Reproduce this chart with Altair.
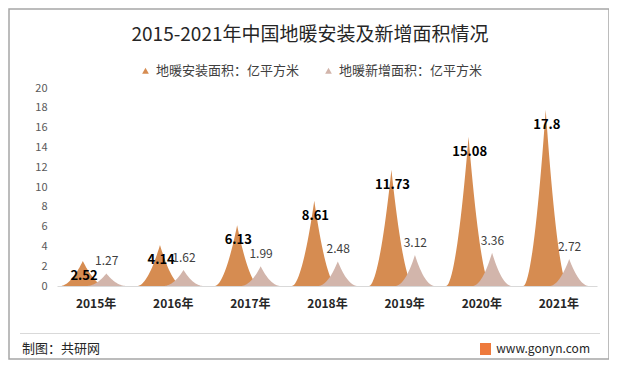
import altair as alt
import pandas as pd

years = ["2015年", "2016年", "2017年", "2018年", "2019年", "2020年", "2021年"]
install = [2.52, 4.14, 6.13, 8.61, 11.73, 15.08, 17.8]
added = [1.27, 1.62, 1.99, 2.48, 3.12, 3.36, 2.72]
series_names = ["地暖安装面积：亿平方米", "地暖新增面积：亿平方米"]
colors = ["#D68C51", "#D2B5AB"]
title_text = "2015-2021年中国地暖安装及新增面积情况"
source_text = "制图：共研网"
site_text = "www.gonyn.com"

FONT = "Noto Sans CJK SC"
W, H = 540, 198

df = pd.DataFrame({"year": years, "idx": list(range(len(years))),
                   "install": install, "added": added})
# profile steps of the spike outline (shape geometry, not data)
steps = pd.DataFrame({"k": list(range(41))})
shape_df = df.merge(steps, how="cross")

label_expr = "[" + ",".join("'%s'" % y for y in years) + "][floor(datum.value)]"
xscale = alt.Scale(domain=[0, len(years)], nice=False, zero=False)
yscale = alt.Scale(domain=[0, 20], nice=False)
x_axis = alt.Axis(values=[i + 0.5 for i in range(len(years))], labelExpr=label_expr,
                  title=None, grid=False, ticks=False, domainColor="#D9D9D9",
                  domainWidth=1, labelFont=FONT, labelFontSize=12, labelFontWeight="bold",
                  labelColor="#262626", labelPadding=12)
y_axis = alt.Axis(values=list(range(0, 21, 2)), title=None, grid=False, ticks=False,
                  domain=False, labelFont=FONT, labelFontSize=11, labelColor="#595959",
                  labelPadding=10)
color_scale = alt.Scale(domain=series_names, range=colors)


def spikes(field, offset, half, power, name):
    return (
        alt.Chart(shape_df)
        .transform_calculate(t="datum.k / 20 - 1")
        .transform_calculate(
            px="datum.idx + 0.5 + (%f) + (%f) * datum.t" % (offset, half),
            py="datum.%s * pow(1 - abs(datum.t), %f)" % (field, power),
            series="'%s'" % name,
        )
        .mark_area(opacity=1, interpolate="linear")
        .encode(
            x=alt.X("px:Q", scale=xscale, axis=x_axis),
            y=alt.Y("py:Q", scale=yscale, axis=y_axis, stack=None),
            color=alt.Color("series:N", scale=color_scale,
                            legend=alt.Legend(title=None, orient="none", legendX=82,
                                              legendY=-24, direction="horizontal",
                                              symbolType="triangle-up", symbolSize=45,
                                              symbolStrokeWidth=0, labelFont=FONT,
                                              labelFontSize=13, labelColor="#404040",
                                              columnPadding=22)),
            detail="year:N",
        )
    )


orange = spikes("install", -0.165, 0.29, 1.8, series_names[0])
gray = spikes("added", 0.14, 0.26, 2.0, series_names[1])

orange_lbl = (
    alt.Chart(df)
    .transform_calculate(px="datum.idx + 0.5 - 0.15")
    .mark_text(font=FONT, fontSize=13, fontWeight="bold", color="#000000", dy=15)
    .encode(x=alt.X("px:Q", scale=xscale, axis=x_axis),
            y=alt.Y("install:Q", scale=yscale, axis=y_axis),
            text=alt.Text("install:Q"))
)
gray_lbl = (
    alt.Chart(df)
    .transform_calculate(px="datum.idx + 0.5 + 0.145")
    .mark_text(font=FONT, fontSize=12, color="#404040", dy=-12)
    .encode(x=alt.X("px:Q", scale=xscale, axis=x_axis),
            y=alt.Y("added:Q", scale=yscale, axis=y_axis),
            text=alt.Text("added:Q"))
)

one = pd.DataFrame({"a": [0]})
title = alt.Chart(pd.DataFrame({"t": [title_text]})).mark_text(
    font=FONT, fontSize=19, color="#262626", baseline="middle", align="center"
).encode(text="t:N", x=alt.value(253), y=alt.value(-53))

sep = alt.Chart(one).mark_rule(color="#D9D9D9", strokeWidth=1).encode(
    x=alt.value(-37), x2=alt.value(543), y=alt.value(245.5))
border = alt.Chart(one).mark_rect(filled=False, stroke="#A6A6A6", strokeWidth=1.5).encode(
    x=alt.value(-48), x2=alt.value(552), y=alt.value(-79), y2=alt.value(271))
src = alt.Chart(pd.DataFrame({"t": [source_text]})).mark_text(
    font=FONT, fontSize=13, color="#262626", align="left", baseline="middle"
).encode(text="t:N", x=alt.value(-35), y=alt.value(261))
site = alt.Chart(pd.DataFrame({"t": [site_text]})).mark_text(
    font=FONT, fontSize=12, color="#262626", align="right", baseline="middle"
).encode(text="t:N", x=alt.value(533), y=alt.value(261))
logo = alt.Chart(one).mark_rect(color="#EE7A3C").encode(
    x=alt.value(423), x2=alt.value(434), y=alt.value(255), y2=alt.value(267))

chart = (
    alt.layer(orange, gray, orange_lbl, gray_lbl, title, sep, border, src, site, logo)
    .properties(width=W, height=H,
                padding={"left": 49, "top": 80, "right": 12, "bottom": 74},
                autosize=alt.AutoSizeParams(type="none"))
    .configure_view(stroke=None)
)

chart.save("out.html", embed_options={"renderer": "svg", "actions": False})
